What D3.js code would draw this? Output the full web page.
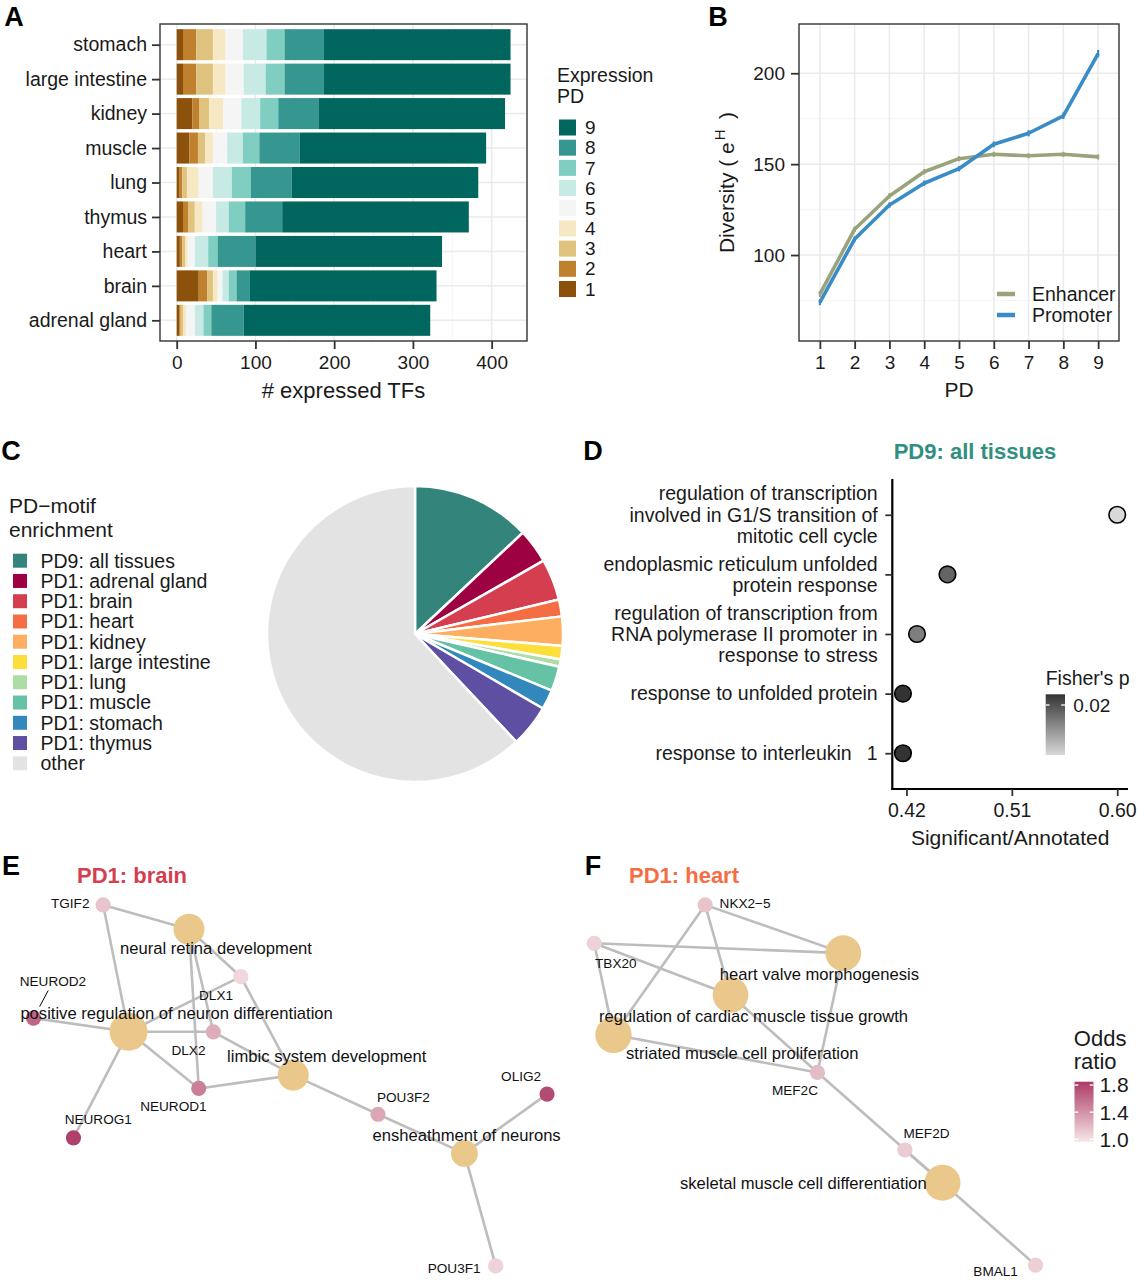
<!DOCTYPE html>
<html>
<head>
<meta charset="utf-8">
<script src="https://cdn.jsdelivr.net/npm/d3@7"></script>
<style>
  body { margin: 0; background: #fff; }
  svg text { font-family: "Liberation Sans", Arial, Helvetica, sans-serif; }
</style>
</head>
<body>
<svg id="fig" width="1137" height="1280"></svg>
<script>
// ---- Panel A: expressed TFs per tissue, split by expression PD
const tissues = ['stomach', 'large intestine', 'kidney', 'muscle', 'lung', 'thymus', 'heart', 'brain', 'adrenal gland'];
const pdLevels = ['1', '2', '3', '4', '5', '6', '7', '8', '9'];
const pdColors = ['#8c510a', '#bf812d', '#dfc27d', '#f6e8c3', '#f5f5f5', '#c7eae5', '#80cdc1', '#35978f', '#01665e'];
const tfPD1 = [8, 8, 20, 16, 3, 8, 4, 28, 3];
const tfPD2 = [17, 17, 9, 11, 4, 7, 3, 11, 2];
const tfPD3 = [21, 21, 12, 9, 6, 8, 4, 7, 3];
const tfPD4 = [16, 16, 18, 10, 15, 10, 3, 6, 4];
const tfPD5 = [22, 23, 23, 18, 18, 17, 9, 6, 11];
const tfPD6 = [30, 28, 24, 20, 24, 16, 17, 8, 11];
const tfPD7 = [23, 24, 23, 21, 24, 21, 12, 10, 10];
const tfPD8 = [50, 50, 51, 51, 52, 47, 48, 17, 41];
const tfPD9 = [237, 237, 237, 237, 237, 237, 237, 237, 237];
const tfTicks = [0, 100, 200, 300, 400];

// ---- Panel B: motif diversity
const pdSteps = [1, 2, 3, 4, 5, 6, 7, 8, 9];
const enhancerDiv = [78.5, 114.2, 132.5, 145.8, 153.0, 155.4, 154.6, 155.4, 154.0];
const promoterDiv = [74.0, 108.8, 127.5, 139.5, 147.5, 160.9, 167.0, 176.6, 210.8];
const enhancerSE = [1.6, 1.5, 1.5, 1.4, 1.4, 1.4, 1.4, 1.4, 1.4];
const promoterSE = [1.6, 1.5, 1.5, 1.5, 1.5, 1.6, 1.7, 1.8, 2.0];
const divTicks = [100, 150, 200];

// ---- Panel C: PD-motif enrichment shares (%)
const motifGroups = ['PD9: all tissues', 'PD1: adrenal gland', 'PD1: brain', 'PD1: heart', 'PD1: kidney',
  'PD1: large intestine', 'PD1: lung', 'PD1: muscle', 'PD1: stomach', 'PD1: thymus', 'other'];
const motifShare = [13.0, 3.75, 4.5, 1.85, 3.2, 1.45, 0.8, 2.7, 2.15, 4.6, 62.0];
const motifColors = ['#33857c', '#9e0142', '#d53e4f', '#f46d43', '#fdae61', '#fddf3b', '#abdda4', '#66c2a5', '#3288bd', '#5e4fa2', '#e3e3e3'];

// ---- Panel D: GO terms for PD9 motifs
const goTerms = [
  ['regulation of transcription', 'involved in G1/S transition of', 'mitotic cell cycle'],
  ['endoplasmic reticulum unfolded', 'protein response'],
  ['regulation of transcription from', 'RNA polymerase II promoter in', 'response to stress'],
  ['response to unfolded protein'],
  ['response to interleukin\u2002 1']
];
const goRatio = [0.600, 0.455, 0.429, 0.417, 0.417];
const goFisherP = [0.034, 0.022, 0.0247, 0.017, 0.017];
const ratioTicks = [0.42, 0.51, 0.60];

// ---- Panels E/F: gene / GO networks (layout units 0-100)
const brainNodes = [
  { id: 'TGIF2', kind: 'gene', odds: 1.14, lx: 15.4, ly: 2.6, tx: 9.3, ty: 2.1 },
  { id: 'neural retina development', kind: 'go', genes: 4, lx: 31.3, ly: 9.0, tx: 36.3, ty: 14.0 },
  { id: 'DLX1', kind: 'gene', odds: 1.04, lx: 40.9, ly: 21.5, tx: 36.3, ty: 26.3 },
  { id: 'NEUROD2', kind: 'gene', odds: 1.63, lx: 2.5, ly: 32.4, tx: 6.1, ty: 22.8, seg: true },
  { id: 'positive regulation of neuron differentiation', kind: 'go', genes: 6, lx: 20.1, ly: 36.0, tx: 29.0, ty: 31.1 },
  { id: 'DLX2', kind: 'gene', odds: 1.26, lx: 35.8, ly: 36.0, tx: 31.2, ty: 40.8 },
  { id: 'NEUROD1', kind: 'gene', odds: 1.5, lx: 33.1, ly: 50.9, tx: 28.4, ty: 55.5 },
  { id: 'limbic system development', kind: 'go', genes: 4, lx: 50.6, ly: 47.4, tx: 56.8, ty: 42.4 },
  { id: 'NEUROG1', kind: 'gene', odds: 1.82, lx: 9.9, ly: 63.9, tx: 14.5, ty: 59.0 },
  { id: 'POU3F2', kind: 'gene', odds: 1.29, lx: 66.3, ly: 57.7, tx: 71.0, ty: 53.1 },
  { id: 'OLIG2', kind: 'gene', odds: 1.76, lx: 97.6, ly: 52.4, tx: 92.8, ty: 47.8 },
  { id: 'ensheathment of neurons', kind: 'go', genes: 3, lx: 82.3, ly: 68.0, tx: 82.7, ty: 63.2 },
  { id: 'POU3F1', kind: 'gene', odds: 1.07, lx: 88.1, ly: 97.6, tx: 80.4, ty: 98.1 }
];
const brainEdges = [
  ['TGIF2', 'neural retina development'], ['TGIF2', 'positive regulation of neuron differentiation'],
  ['neural retina development', 'DLX1'], ['neural retina development', 'DLX2'], ['neural retina development', 'NEUROD1'],
  ['DLX1', 'positive regulation of neuron differentiation'], ['DLX1', 'limbic system development'],
  ['NEUROD2', 'positive regulation of neuron differentiation'],
  ['positive regulation of neuron differentiation', 'DLX2'], ['positive regulation of neuron differentiation', 'NEUROD1'],
  ['positive regulation of neuron differentiation', 'NEUROG1'],
  ['DLX2', 'limbic system development'], ['NEUROD1', 'limbic system development'],
  ['limbic system development', 'POU3F2'], ['POU3F2', 'ensheathment of neurons'],
  ['OLIG2', 'ensheathment of neurons'], ['ensheathment of neurons', 'POU3F1']
];
const heartNodes = [
  { id: 'NKX2\u22125', kind: 'gene', odds: 1.14, lx: 24.5, ly: 2.6, tx: 33.0, ty: 2.2 },
  { id: 'TBX20', kind: 'gene', odds: 1.07, lx: 0.9, ly: 12.7, tx: 5.5, ty: 18.0 },
  { id: 'heart valve morphogenesis', kind: 'go', genes: 5.3, lx: 53.9, ly: 15.3, tx: 48.8, ty: 20.9 },
  { id: 'regulation of cardiac muscle tissue growth', kind: 'go', genes: 5.3, lx: 29.9, ly: 26.3, tx: 34.8, ty: 32.0 },
  { id: 'striated muscle cell proliferation', kind: 'go', genes: 5.5, lx: 5.0, ly: 36.8, tx: 32.4, ty: 41.7 },
  { id: 'MEF2C', kind: 'gene', odds: 1.18, lx: 48.4, ly: 46.7, tx: 43.6, ty: 51.5 },
  { id: 'MEF2D', kind: 'gene', odds: 1.1, lx: 67.0, ly: 67.1, tx: 71.6, ty: 62.6 },
  { id: 'skeletal muscle cell differentiation', kind: 'go', genes: 5.4, lx: 75.0, ly: 75.7, tx: 45.4, ty: 75.9 },
  { id: 'BMAL1', kind: 'gene', odds: 1.08, lx: 94.8, ly: 97.4, tx: 86.3, ty: 99.1 }
];
const heartEdges = [
  ['NKX2\u22125', 'heart valve morphogenesis'], ['NKX2\u22125', 'regulation of cardiac muscle tissue growth'],
  ['NKX2\u22125', 'striated muscle cell proliferation'],
  ['TBX20', 'heart valve morphogenesis'], ['TBX20', 'regulation of cardiac muscle tissue growth'],
  ['TBX20', 'striated muscle cell proliferation'],
  ['heart valve morphogenesis', 'MEF2C'], ['regulation of cardiac muscle tissue growth', 'MEF2C'],
  ['striated muscle cell proliferation', 'MEF2C'],
  ['MEF2C', 'skeletal muscle cell differentiation'], ['MEF2D', 'skeletal muscle cell differentiation'],
  ['skeletal muscle cell differentiation', 'BMAL1']
];
const oddsTicks = [1.0, 1.4, 1.8];

const svg = d3.select('#fig');
const INK = '#1a1a1a';
svg.append('rect').attr('width', 1137).attr('height', 1280).attr('fill', '#fff');

function addText(g, x, y, str, size, opts = {}) {
  return g.append('text')
    .attr('x', x).attr('y', y).attr('dy', '0.35em')
    .attr('font-size', size)
    .attr('font-weight', opts.bold ? 'bold' : null)
    .attr('text-anchor', opts.anchor || 'start')
    .attr('fill', opts.fill || INK)
    .text(str);
}

function styleAxis(g, size) {
  g.attr('font-size', size).attr('font-family', null);
  g.select('.domain').remove();
  g.selectAll('.tick line').attr('stroke', '#333').attr('stroke-width', 1.8);
  g.selectAll('.tick text').attr('fill', INK);
}

// panel letters
[['A', 14, 17], ['B', 718, 17], ['C', 11, 451], ['D', 593, 451], ['E', 11, 866], ['F', 593, 866]]
  .forEach(([l, x, y]) => addText(svg, x, y, l, 27, { bold: true, anchor: 'middle', fill: '#000' }));

// ================= Panel A =================
const A = { left: 160, right: 527, top: 24, bottom: 341 };
const xA = d3.scaleLinear().domain([-21.2, 444.9]).range([A.left, A.right]);
const yA = d3.scalePoint().domain(tissues).range([A.top, A.bottom]).padding(0.6);
const barH = yA.step() * 0.9;
const gA = svg.append('g');

// grid
gA.selectAll('line.minor').data([50, 150, 250, 350]).join('line')
  .attr('x1', d => xA(d)).attr('x2', d => xA(d)).attr('y1', A.top).attr('y2', A.bottom)
  .attr('stroke', '#f3f3f3').attr('stroke-width', 0.8);
gA.selectAll('line.vmajor').data(tfTicks).join('line')
  .attr('x1', d => xA(d)).attr('x2', d => xA(d)).attr('y1', A.top).attr('y2', A.bottom)
  .attr('stroke', '#ebebeb').attr('stroke-width', 1.5);
gA.selectAll('line.hmajor').data(tissues).join('line')
  .attr('x1', A.left).attr('x2', A.right).attr('y1', d => yA(d)).attr('y2', d => yA(d))
  .attr('stroke', '#ebebeb').attr('stroke-width', 1.5);

const tfByPD = [tfPD1, tfPD2, tfPD3, tfPD4, tfPD5, tfPD6, tfPD7, tfPD8, tfPD9];
const rowsA = tissues.map((t, i) => {
  const row = { tissue: t };
  pdLevels.forEach((p, j) => { row[p] = tfByPD[j][i]; });
  return row;
});
const stackA = d3.stack().keys(pdLevels)(rowsA);
gA.selectAll('g.layer').data(stackA).join('g')
  .attr('fill', (d, i) => pdColors[i])
  .selectAll('rect').data(d => d).join('rect')
  .attr('x', d => xA(d[0]))
  .attr('width', d => xA(d[1]) - xA(d[0]))
  .attr('y', d => yA(d.data.tissue) - barH / 2)
  .attr('height', barH);

gA.append('rect').attr('x', A.left).attr('y', A.top)
  .attr('width', A.right - A.left).attr('height', A.bottom - A.top)
  .attr('fill', 'none').attr('stroke', '#333').attr('stroke-width', 1.4);

const axAy = gA.append('g').attr('transform', `translate(${A.left},0)`)
  .call(d3.axisLeft(yA).tickSize(8).tickPadding(5));
styleAxis(axAy, 19.5);
const axAx = gA.append('g').attr('transform', `translate(0,${A.bottom})`)
  .call(d3.axisBottom(xA).tickValues(tfTicks).tickSize(8).tickPadding(7));
styleAxis(axAx, 19);
addText(gA, (A.left + A.right) / 2, 390, '# expressed TFs', 22, { anchor: 'middle' });

// legend A
addText(gA, 557, 75, 'Expression', 19.5);
addText(gA, 557, 96, 'PD', 19.5);
const legA = gA.append('g');
const legPD = pdLevels.slice().reverse();
const legY = d3.scalePoint().domain(legPD).range([127.5, 289]);
legA.selectAll('rect').data(legPD).join('rect')
  .attr('x', 559).attr('y', d => legY(d) - 8).attr('width', 17).attr('height', 16)
  .attr('fill', d => pdColors[+d - 1]);
legA.selectAll('text').data(legPD).join('text')
  .attr('x', 585).attr('y', d => legY(d)).attr('dy', '0.35em')
  .attr('font-size', 19).attr('fill', INK).text(d => d);

// ================= Panel B =================
const B = { left: 799, right: 1119, top: 24, bottom: 341 };
const xB = d3.scalePoint().domain(pdSteps).range([B.left, B.right]).padding(0.6);
const yB = d3.scaleLinear().domain([52.7, 227.1]).range([B.bottom, B.top]);
const gB = svg.append('g');

gB.selectAll('line.hminor').data([75, 125, 175, 225]).join('line')
  .attr('x1', B.left).attr('x2', B.right).attr('y1', d => yB(d)).attr('y2', d => yB(d))
  .attr('stroke', '#f3f3f3').attr('stroke-width', 0.8);
gB.selectAll('line.hmajor').data(divTicks).join('line')
  .attr('x1', B.left).attr('x2', B.right).attr('y1', d => yB(d)).attr('y2', d => yB(d))
  .attr('stroke', '#ebebeb').attr('stroke-width', 1.5);
gB.selectAll('line.vmajor').data(pdSteps).join('line')
  .attr('x1', d => xB(d)).attr('x2', d => xB(d)).attr('y1', B.top).attr('y2', B.bottom)
  .attr('stroke', '#ebebeb').attr('stroke-width', 1.5);

const seriesB = [
  { name: 'Enhancer', color: '#9aa37a', values: enhancerDiv, se: enhancerSE },
  { name: 'Promoter', color: '#3a8cc6', values: promoterDiv, se: promoterSE }
];
const lineB = d3.line().x((d, i) => xB(pdSteps[i])).y(d => yB(d));
seriesB.forEach(s => {
  gB.append('path').datum(s.values).attr('d', lineB)
    .attr('fill', 'none').attr('stroke', s.color).attr('stroke-width', 3.6)
    .attr('stroke-linejoin', 'round');
  gB.selectAll(null).data(s.values).join('line')
    .attr('x1', (d, i) => xB(pdSteps[i])).attr('x2', (d, i) => xB(pdSteps[i]))
    .attr('y1', (d, i) => yB(d - s.se[i])).attr('y2', (d, i) => yB(d + s.se[i]))
    .attr('stroke', s.color).attr('stroke-width', 2.2);
});

gB.append('rect').attr('x', B.left).attr('y', B.top)
  .attr('width', B.right - B.left).attr('height', B.bottom - B.top)
  .attr('fill', 'none').attr('stroke', '#333').attr('stroke-width', 1.4);

const axBy = gB.append('g').attr('transform', `translate(${B.left},0)`)
  .call(d3.axisLeft(yB).tickValues(divTicks).tickSize(8).tickPadding(6));
styleAxis(axBy, 19);
const axBx = gB.append('g').attr('transform', `translate(0,${B.bottom})`)
  .call(d3.axisBottom(xB).tickSize(8).tickPadding(7));
styleAxis(axBx, 19);
addText(gB, (B.left + B.right) / 2, 390, 'PD', 21, { anchor: 'middle' });

const yLab = gB.append('text')
  .attr('transform', `translate(727,${(B.top + B.bottom) / 2}) rotate(-90)`)
  .attr('text-anchor', 'middle').attr('dy', '0.35em')
  .attr('font-size', 21).attr('fill', INK);
yLab.append('tspan').text('Diversity ( e');
yLab.append('tspan').attr('font-size', 15).attr('dy', '-0.65em').attr('dx', 2).text('H');
yLab.append('tspan').attr('dy', '0.45em').text('\u2002)');

// legend B
const legB = gB.append('g');
seriesB.forEach((s, i) => {
  const y = 294 + i * 21;
  legB.append('line').attr('x1', 997).attr('x2', 1015).attr('y1', y).attr('y2', y)
    .attr('stroke', s.color).attr('stroke-width', 4.5);
  addText(legB, 1032, y, s.name, 19.5);
});

// ================= Panel C =================
const gC = svg.append('g');
const motifData = motifGroups.map((g, i) => ({ group: g, share: motifShare[i], color: motifColors[i] }));
const pie = d3.pie().sort(null).value(d => d.share);
const arcC = d3.arc().innerRadius(0).outerRadius(148);
gC.append('g').attr('transform', 'translate(415,634)')
  .selectAll('path').data(pie(motifData)).join('path')
  .attr('d', arcC).attr('fill', d => d.data.color)
  .attr('stroke', '#fff').attr('stroke-width', 2.5).attr('stroke-linejoin', 'round');

addText(gC, 9, 505.5, 'PD\u2212motif', 21);
addText(gC, 9, 530, 'enrichment', 21);
const legCY = d3.scalePoint().domain(motifGroups).range([560.7, 763.3]);
gC.selectAll('rect.key').data(motifData).join('rect')
  .attr('x', 13).attr('y', d => legCY(d.group) - 7).attr('width', 14).attr('height', 14)
  .attr('fill', d => d.color);
gC.selectAll('text.key').data(motifData).join('text')
  .attr('x', 40.5).attr('y', d => legCY(d.group)).attr('dy', '0.35em')
  .attr('font-size', 19.5).attr('fill', INK).text(d => d.group);

// ================= Panel D =================
const D = { left: 892.3, right: 1128, top: 479, bottom: 789 };
const gD = svg.append('g');
const xD = d3.scaleLinear().domain([0.4079, 0.6092]).range([D.left, D.right]);
const yD = d3.scalePoint().domain(d3.range(goTerms.length)).range([D.top, D.bottom]).padding(0.6);
const pColor = d3.scaleLinear().domain([0.017, 0.034]).range(['#333333', '#d8d8d8']);

addText(gD, 975, 451, 'PD9: all tissues', 22, { bold: true, anchor: 'middle', fill: '#2f8f80' });

gD.append('line').attr('x1', D.left).attr('x2', D.left).attr('y1', D.top).attr('y2', D.bottom + 1)
  .attr('stroke', '#000').attr('stroke-width', 2.2);
gD.append('line').attr('x1', D.left - 1).attr('x2', D.right).attr('y1', D.bottom).attr('y2', D.bottom)
  .attr('stroke', '#000').attr('stroke-width', 2.2);

const axDy = gD.append('g').attr('transform', `translate(${D.left},0)`)
  .call(d3.axisLeft(yD).tickSize(7).tickFormat(''));
styleAxis(axDy, 19);
const axDx = gD.append('g').attr('transform', `translate(0,${D.bottom})`)
  .call(d3.axisBottom(xD).tickValues(ratioTicks).tickFormat(d3.format('.2f')).tickSize(7).tickPadding(7));
styleAxis(axDx, 19.5);
addText(gD, (D.left + D.right) / 2, 838, 'Significant/Annotated', 21, { anchor: 'middle' });

goTerms.forEach((lines, i) => {
  const lh = 21.3;
  const y0 = yD(i) - (lines.length - 1) * lh / 2;
  lines.forEach((ln, k) => {
    addText(gD, 877.7, y0 + k * lh, ln, 19.5, { anchor: 'end' }).style('white-space', 'pre');
  });
});

gD.selectAll('circle').data(goRatio).join('circle')
  .attr('cx', d => xD(d)).attr('cy', (d, i) => yD(i)).attr('r', 8.3)
  .attr('fill', (d, i) => pColor(goFisherP[i])).attr('stroke', '#000').attr('stroke-width', 1.6);

// Fisher's p legend
const defs = svg.append('defs');
const gradP = defs.append('linearGradient').attr('id', 'gradP')
  .attr('x1', 0).attr('x2', 0).attr('y1', 0).attr('y2', 1);
gradP.append('stop').attr('offset', '0%').attr('stop-color', pColor(0.017));
gradP.append('stop').attr('offset', '100%').attr('stop-color', pColor(0.034));
addText(gD, 1045.7, 678.3, "Fisher's p", 19.5);
const pBar = d3.scaleLinear().domain([0.017, 0.034]).range([694.3, 755]);
gD.append('rect').attr('x', 1045.7).attr('y', 694.3).attr('width', 19.3).attr('height', 60.7)
  .attr('fill', 'url(#gradP)');
[[1045.7, 1049.5], [1061.2, 1065]].forEach(([a, b]) => {
  gD.append('line').attr('x1', a).attr('x2', b).attr('y1', pBar(0.02)).attr('y2', pBar(0.02))
    .attr('stroke', '#fff').attr('stroke-width', 1.3);
});
addText(gD, 1073.3, pBar(0.02), '0.02', 19);

// ================= Panels E / F =================
const oddsColor = d3.scaleLinear().domain([0.965, 1.849]).range(['#f6e6e6', '#ad3a65']);
const goRadius = d3.scaleSqrt().domain([0, 6]).range([0, 19]);

function drawNetwork(nodes, edges, xs, ys) {
  const byId = new Map(nodes.map(n => [n.id, n]));
  const g = svg.append('g');
  g.selectAll('line.edge').data(edges).join('line')
    .attr('x1', e => xs(byId.get(e[0]).lx)).attr('y1', e => ys(byId.get(e[0]).ly))
    .attr('x2', e => xs(byId.get(e[1]).lx)).attr('y2', e => ys(byId.get(e[1]).ly))
    .attr('stroke', '#bdbdbd').attr('stroke-width', 2.6);
  g.selectAll('circle').data(nodes).join('circle')
    .attr('cx', n => xs(n.lx)).attr('cy', n => ys(n.ly))
    .attr('r', n => n.kind === 'go' ? goRadius(n.genes) : 7.6)
    .attr('fill', n => n.kind === 'go' ? '#eac78a' : oddsColor(n.odds));
  // repelled-label leader segments
  nodes.filter(n => n.seg).forEach(n => {
    const x0 = xs(n.tx), y0 = ys(n.ty), x1 = xs(n.lx), y1 = ys(n.ly);
    const len = Math.hypot(x1 - x0, y1 - y0);
    const ux = (x1 - x0) / len, uy = (y1 - y0) / len;
    g.append('line')
      .attr('x1', x0 + ux * 10).attr('y1', y0 + uy * 10)
      .attr('x2', x0 + ux * (len - 13)).attr('y2', y0 + uy * (len - 13))
      .attr('stroke', '#000').attr('stroke-width', 1);
  });
  g.selectAll('text').data(nodes).join('text')
    .attr('x', n => xs(n.tx)).attr('y', n => ys(n.ty)).attr('dy', '0.35em')
    .attr('text-anchor', 'middle')
    .attr('font-size', n => n.kind === 'go' ? 16.6 : 13.6)
    .attr('fill', '#111').text(n => n.id);
}

addText(svg, 132, 875, 'PD1: brain', 22, { bold: true, anchor: 'middle', fill: '#d53e4f' });
drawNetwork(brainNodes, brainEdges,
  d3.scaleLinear().domain([0, 100]).range([20, 560]),
  d3.scaleLinear().domain([0, 100]).range([895, 1275]));

addText(svg, 684, 875, 'PD1: heart', 22, { bold: true, anchor: 'middle', fill: '#f46d43' });
drawNetwork(heartNodes, heartEdges,
  d3.scaleLinear().domain([0, 100]).range([590, 1060]),
  d3.scaleLinear().domain([0, 100]).range([895, 1275]));

// Odds ratio legend
const gradO = defs.append('linearGradient').attr('id', 'gradO')
  .attr('x1', 0).attr('x2', 0).attr('y1', 1).attr('y2', 0);
gradO.append('stop').attr('offset', '0%').attr('stop-color', oddsColor(0.965));
gradO.append('stop').attr('offset', '100%').attr('stop-color', oddsColor(1.849));
const oBar = d3.scaleLinear().domain([0.965, 1.849]).range([1141.7, 1081.7]);
addText(svg, 1073.8, 1038.3, 'Odds', 22);
addText(svg, 1073.8, 1061.7, 'ratio', 22);
svg.append('rect').attr('x', 1074.5).attr('y', 1081.7).attr('width', 19).attr('height', 60)
  .attr('fill', 'url(#gradO)');
oddsTicks.forEach(t => {
  [[1074.5, 1078.3], [1089.7, 1093.5]].forEach(([a, b]) => {
    svg.append('line').attr('x1', a).attr('x2', b).attr('y1', oBar(t)).attr('y2', oBar(t))
      .attr('stroke', '#fff').attr('stroke-width', 1.3);
  });
  addText(svg, 1099.4, oBar(t), d3.format('.1f')(t), 21);
});
</script>
</body>
</html>
